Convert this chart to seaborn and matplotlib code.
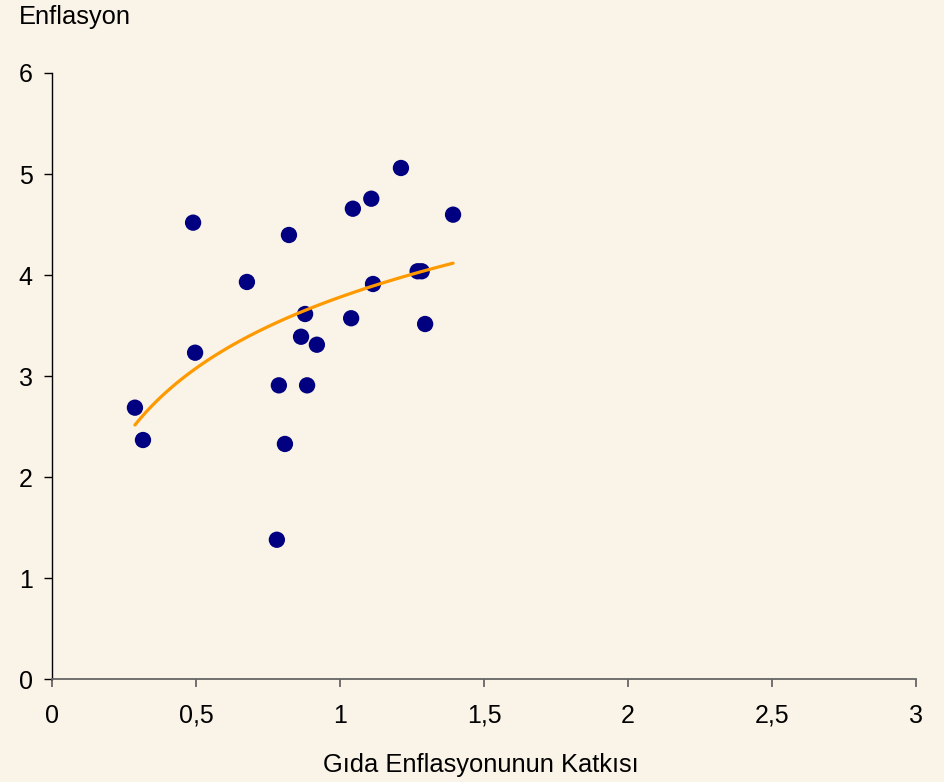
import numpy as np
import pandas as pd
import matplotlib
matplotlib.use("Agg")
import matplotlib.pyplot as plt
import seaborn as sns

# Food inflation contribution vs. headline inflation
gida_katkisi = [0.287, 0.315, 0.489, 0.496, 0.676, 0.780, 0.787, 0.808, 0.822, 0.864, 0.878,
                0.885, 0.919, 1.038, 1.044, 1.108, 1.114, 1.211, 1.269, 1.283, 1.295, 1.392]
enflasyon = [2.688, 2.368, 4.519, 3.232, 3.932, 1.381, 2.909, 2.329, 4.397, 3.390, 3.615,
             2.909, 3.311, 3.573, 4.657, 4.756, 3.912, 5.060, 4.038, 4.038, 3.516, 4.598]

x_ticks = [0, 0.5, 1, 1.5, 2, 2.5, 3]
x_tick_labels = ["0", "0,5", "1", "1,5", "2", "2,5", "3"]
y_ticks = [0, 1, 2, 3, 4, 5, 6]
y_tick_labels = ["0", "1", "2", "3", "4", "5", "6"]

df = pd.DataFrame({"x": gida_katkisi, "y": enflasyon})

bg = "#FAF3E7"
sns.set_theme(style="white")
plt.rcParams["font.family"] = ["Liberation Sans", "DejaVu Sans"]
plt.rcParams["text.color"] = "black"
plt.rcParams["xtick.labelcolor"] = "black"
plt.rcParams["ytick.labelcolor"] = "black"

fig = plt.figure(figsize=(9.44, 7.82), dpi=100, facecolor=bg)
ax = fig.add_axes([52.3 / 944, 1 - 679.3 / 782, (916 - 52.3) / 944, (679.3 - 73) / 782])
ax.set_facecolor(bg)

sns.scatterplot(data=df, x="x", y="y", ax=ax, s=138, color="#000080",
                edgecolor="none", linewidth=0, zorder=3, clip_on=False)
# logarithmic trend line
sns.regplot(data=df, x="x", y="y", ax=ax, logx=True, ci=None, scatter=False,
            truncate=True, line_kws={"color": "#FF9900", "lw": 2.3, "zorder": 4})

ax.set_xlim(0, 3)
ax.set_ylim(0, 6)
ax.set_xticks(x_ticks)
ax.set_xticklabels(x_tick_labels)
ax.set_yticks(y_ticks)
ax.set_yticklabels(y_tick_labels)
ax.set_xlabel("")
ax.set_ylabel("")

for side in ("top", "right"):
    ax.spines[side].set_visible(False)
ax.spines["left"].set_color("black")
ax.spines["left"].set_linewidth(1.0)
ax.spines["bottom"].set_color("#666666")
ax.spines["bottom"].set_linewidth(1.3)

ax.tick_params(axis="y", direction="out", length=6, width=1.0, color="black",
               labelcolor="black", labelsize=18, pad=8, left=True)
ax.tick_params(axis="x", direction="out", length=5.5, width=1.3, color="#666666",
               labelcolor="black", labelsize=18, pad=12, bottom=True)

fig.text(19 / 944, 1 - 24 / 782, "Enflasyon", fontsize=18.4, ha="left", va="baseline",
         color="black")
fig.text(481 / 944, 1 - 772 / 782, "Gıda Enflasyonunun Katkısı", fontsize=18.4,
         ha="center", va="baseline", color="black")

fig.savefig("out.png", dpi=100, facecolor=bg)
